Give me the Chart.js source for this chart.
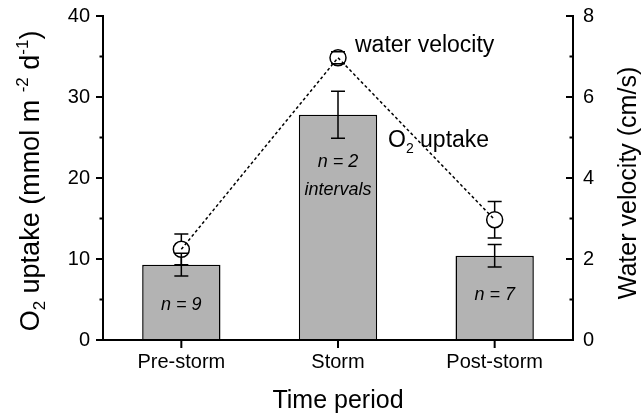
<!DOCTYPE html>
<html>
<head>
<meta charset="utf-8">
<script src="https://cdn.jsdelivr.net/npm/chart.js@4"></script>
<style>
  html, body { margin: 0; padding: 0; background: #fff; }
  #wrap { width: 641px; height: 414px; }
</style>
</head>
<body>
<div id="wrap"><canvas id="oxyChart" width="641" height="414"></canvas></div>
<script>
var periods = ['Pre-storm', 'Storm', 'Post-storm'];
var o2Uptake = [9.3, 27.8, 10.4];
var o2Error = [1.4, 2.9, 1.4];
var velocity = [2.24, 6.97, 2.97];
var velocityError = [0.38, 0.15, 0.45];
var o2Ticks = [0, 10, 20, 30, 40];
var velocityTicks = [0, 2, 4, 6, 8];
var sampleLabels = [['n = 9'], ['n = 2', 'intervals'], ['n = 7']];

var FONT = '"Liberation Sans", Arial, sans-serif';
var oxyChart;

// pieces of text: [text, size, baseline shift]
function drawPieces(ctx, pieces, cx, cy, rotate) {
    ctx.save();
    ctx.translate(cx, cy);
    if (rotate) ctx.rotate(-Math.PI / 2);
    var total = 0;
    pieces.forEach(function(p) {
        ctx.font = p[1] + 'px ' + FONT;
        total += ctx.measureText(p[0]).width;
    });
    var x = rotate ? -total / 2 : 0;
    ctx.textAlign = 'left';
    ctx.textBaseline = 'alphabetic';
    pieces.forEach(function(p) {
        ctx.font = p[1] + 'px ' + FONT;
        ctx.fillText(p[0], x, p[2]);
        x += ctx.measureText(p[0]).width;
    });
    ctx.restore();
}

function noPad(s) {
    s.paddingTop = 0;
    s.paddingBottom = 0;
}

var decor = {
    id: 'decor',
    afterDatasetsDraw: function(chart) {
        var ctx = chart.ctx;
        var y = chart.scales.y, y2 = chart.scales.y2;
        var bars = chart.getDatasetMeta(0).data;
        var pts = chart.getDatasetMeta(1).data;
        ctx.save();
        ctx.strokeStyle = '#000';
        ctx.lineWidth = 1.5;
        var cap = 7;
        // O2 error bars
        bars.forEach(function(b, i) {
            var t = y.getPixelForValue(o2Uptake[i] + o2Error[i]);
            var bt = y.getPixelForValue(o2Uptake[i] - o2Error[i]);
            ctx.beginPath();
            ctx.moveTo(b.x, t); ctx.lineTo(b.x, bt);
            ctx.moveTo(b.x - cap, t); ctx.lineTo(b.x + cap, t);
            ctx.moveTo(b.x - cap, bt); ctx.lineTo(b.x + cap, bt);
            ctx.stroke();
        });
        // velocity error bars, outside the circle only
        pts.forEach(function(p, i) {
            var r = 8;
            var t = y2.getPixelForValue(velocity[i] + velocityError[i]);
            var bt = y2.getPixelForValue(velocity[i] - velocityError[i]);
            ctx.beginPath();
            if (t < p.y - r) { ctx.moveTo(p.x, p.y - r); ctx.lineTo(p.x, t); }
            if (bt > p.y + r) { ctx.moveTo(p.x, p.y + r); ctx.lineTo(p.x, bt); }
            ctx.moveTo(p.x - cap, t); ctx.lineTo(p.x + cap, t);
            ctx.moveTo(p.x - cap, bt); ctx.lineTo(p.x + cap, bt);
            ctx.stroke();
        });
        ctx.restore();
    },
    afterDraw: function(chart) {
        var ctx = chart.ctx;
        var a = chart.chartArea;
        var x = chart.scales.x, y = chart.scales.y, y2 = chart.scales.y2;
        ctx.save();
        ctx.strokeStyle = '#000';
        ctx.fillStyle = '#000';
        ctx.lineWidth = 2;
        ctx.lineCap = 'square';
        ctx.beginPath();
        ctx.moveTo(a.left, a.top); ctx.lineTo(a.left, a.bottom);
        ctx.moveTo(a.left, a.bottom); ctx.lineTo(a.right, a.bottom);
        ctx.moveTo(a.right, a.top); ctx.lineTo(a.right, a.bottom);
        ctx.stroke();
        ctx.lineCap = 'butt';
        ctx.beginPath();
        o2Ticks.forEach(function(v, i) {
            var py = y.getPixelForValue(v);
            ctx.moveTo(a.left - 7, py); ctx.lineTo(a.left, py);
            if (i > 0) {
                var my = y.getPixelForValue((v + o2Ticks[i - 1]) / 2);
                ctx.moveTo(a.left - 3.5, my); ctx.lineTo(a.left, my);
            }
        });
        velocityTicks.forEach(function(v, i) {
            var py = y2.getPixelForValue(v);
            ctx.moveTo(a.right - 7, py); ctx.lineTo(a.right, py);
            if (i > 0) {
                var my = y2.getPixelForValue((v + velocityTicks[i - 1]) / 2);
                ctx.moveTo(a.right - 3.5, my); ctx.lineTo(a.right, my);
            }
        });
        periods.forEach(function(p, i) {
            var px = x.getPixelForValue(i);
            ctx.moveTo(px, a.bottom); ctx.lineTo(px, a.bottom + 8);
        });
        ctx.stroke();

        // axis titles
        drawPieces(ctx, [
            ['O', 27, 0], ['2', 17, 6], [' uptake (mmol m ', 27, 0],
            ['-2', 17, -11], [' d', 27, 0], ['-1', 17, -11], [')', 27, 0]
        ], 39, 181, true);
        drawPieces(ctx, [['Water velocity (cm/s)', 25, 0]], 636, 183, true);
        ctx.font = '25px ' + FONT;
        ctx.textAlign = 'center';
        ctx.textBaseline = 'alphabetic';
        ctx.fillText('Time period', (a.left + a.right) / 2, 408);

        // sample size labels inside bars
        var labelY = [3.7, 21.4, 4.9];
        ctx.font = 'italic 18px ' + FONT;
        sampleLabels.forEach(function(lines, i) {
            var px = x.getPixelForValue(i);
            var py = y.getPixelForValue(labelY[i]);
            lines.forEach(function(t, k) {
                ctx.fillText(t, px, py + k * 28);
            });
        });

        // series annotations
        var sx = x.getPixelForValue(1);
        ctx.textAlign = 'left';
        ctx.font = '23px ' + FONT;
        ctx.fillText('water velocity', sx + 17, y2.getPixelForValue(velocity[1]) - 6);
        drawPieces(ctx, [['O', 23, 0], ['2', 14, 6], [' uptake', 23, 0]],
            sx + 50, y.getPixelForValue(o2Uptake[1]) + 32, false);
        ctx.restore();
    }
};

function createChart() {
    var ctx = document.getElementById('oxyChart').getContext('2d');
    var data = {
        labels: periods,
        datasets: [{
            type: 'bar',
            data: o2Uptake,
            yAxisID: 'y',
            backgroundColor: '#b3b3b3',
            borderColor: '#000',
            borderWidth: 1.5,
            barPercentage: 0.5,
            categoryPercentage: 1,
            order: 2
        }, {
            type: 'line',
            data: velocity,
            yAxisID: 'y2',
            borderColor: '#000',
            borderWidth: 1.5,
            borderDash: [3, 2.5],
            pointRadius: 8,
            pointBorderWidth: 1.5,
            pointBorderColor: '#000',
            pointBackgroundColor: 'rgba(0,0,0,0)',
            fill: false,
            order: 1
        }]
    };
    var tickFont = { family: FONT, size: 20 };
    oxyChart = new Chart(ctx, {
        data: data,
        plugins: [decor],
        options: {
            responsive: false,
            animation: false,
            events: [],
            layout: { padding: { top: 16, right: 0, bottom: 0, left: 0 } },
            plugins: { legend: { display: false }, tooltip: { enabled: false } },
            scales: {
                x: {
                    offset: true,
                    grid: { display: false, drawTicks: false },
                    border: { display: false },
                    ticks: { color: '#000', font: tickFont, padding: 10 },
                    afterFit: function(s) { s.height = 74; s.paddingLeft = 0; s.paddingRight = 0; }
                },
                y: {
                    position: 'left',
                    min: 0, max: 40,
                    grid: { display: false, drawTicks: false },
                    border: { display: false },
                    ticks: { color: '#000', font: tickFont, padding: 13 },
                    afterBuildTicks: function(s) { s.ticks = o2Ticks.map(function(v) { return { value: v }; }); },
                    afterFit: function(s) { s.width = 103; noPad(s); }
                },
                y2: {
                    position: 'right',
                    min: 0, max: 8,
                    grid: { display: false, drawTicks: false },
                    border: { display: false },
                    ticks: { color: '#000', font: tickFont, padding: 10 },
                    afterBuildTicks: function(s) { s.ticks = velocityTicks.map(function(v) { return { value: v }; }); },
                    afterFit: function(s) { s.width = 68; noPad(s); }
                }
            }
        }
    });
}

createChart();
</script>
</body>
</html>
